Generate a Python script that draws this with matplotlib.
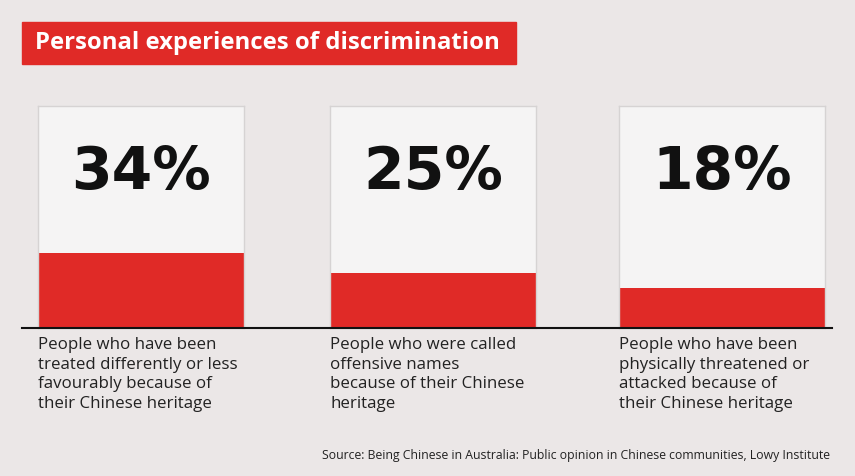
import matplotlib.pyplot as plt
from matplotlib.patches import Rectangle

plt.rcParams['font.family'] = 'Open Sans'

# ===== data =====
TITLE = "Personal experiences of discrimination"
PERCENTS = [34, 25, 18]
LABELS = [
    "People who have been\ntreated differently or less\nfavourably because of\ntheir Chinese heritage",
    "People who were called\noffensive names\nbecause of their Chinese\nheritage",
    "People who have been\nphysically threatened or\nattacked because of\ntheir Chinese heritage",
]
SOURCE = "Source: Being Chinese in Australia: Public opinion in Chinese communities, Lowy Institute"

RED = "#e02a27"
W, H = 855, 476
fig = plt.figure(figsize=(W / 100, H / 100), dpi=100)
fig.patch.set_facecolor("#ebe7e7")

# title box
fig.patches.append(Rectangle((22 / W, 1 - 64 / H), 494 / W, 42 / H,
                             transform=fig.transFigure, color=RED, zorder=1))
fig.text(35 / W, 1 - 43 / H, TITLE, color="white", fontsize=17.2,
         fontweight="bold", va="center", ha="left")

lefts = [38, 330, 619]
for left, pct, label in zip(lefts, PERCENTS, LABELS):
    ax = fig.add_axes([left / W, 148 / H, 206 / W, 222 / H])
    ax.set_xlim(0, 1)
    ax.set_ylim(0, 100)
    ax.set_facecolor((1, 1, 1, 0.55))
    for s in ax.spines.values():
        s.set_color("#d6d3d3")
        s.set_linewidth(1)
    ax.bar(0.5, pct, width=1, color=RED, zorder=2)
    ax.set_xticks([])
    ax.set_yticks([])
    ax.text(0.5, 70, f"{pct}%", ha="center", va="center", fontsize=42,
            fontweight="bold", color="#111111", family="DejaVu Sans")
    fig.text(left / W, 1 - 337 / H, label, ha="left", va="top",
             fontsize=12.2, color="#222222", linespacing=1.3)

# baseline
fig.add_artist(plt.Line2D([22 / W, 832 / W], [148 / H, 148 / H],
                          color="#111111", linewidth=1.5))

fig.text(830 / W, 1 - 456 / H, SOURCE, ha="right", va="center",
         fontsize=8.8, color="#222222")

fig.savefig("out.png", dpi=100, facecolor=fig.get_facecolor())
